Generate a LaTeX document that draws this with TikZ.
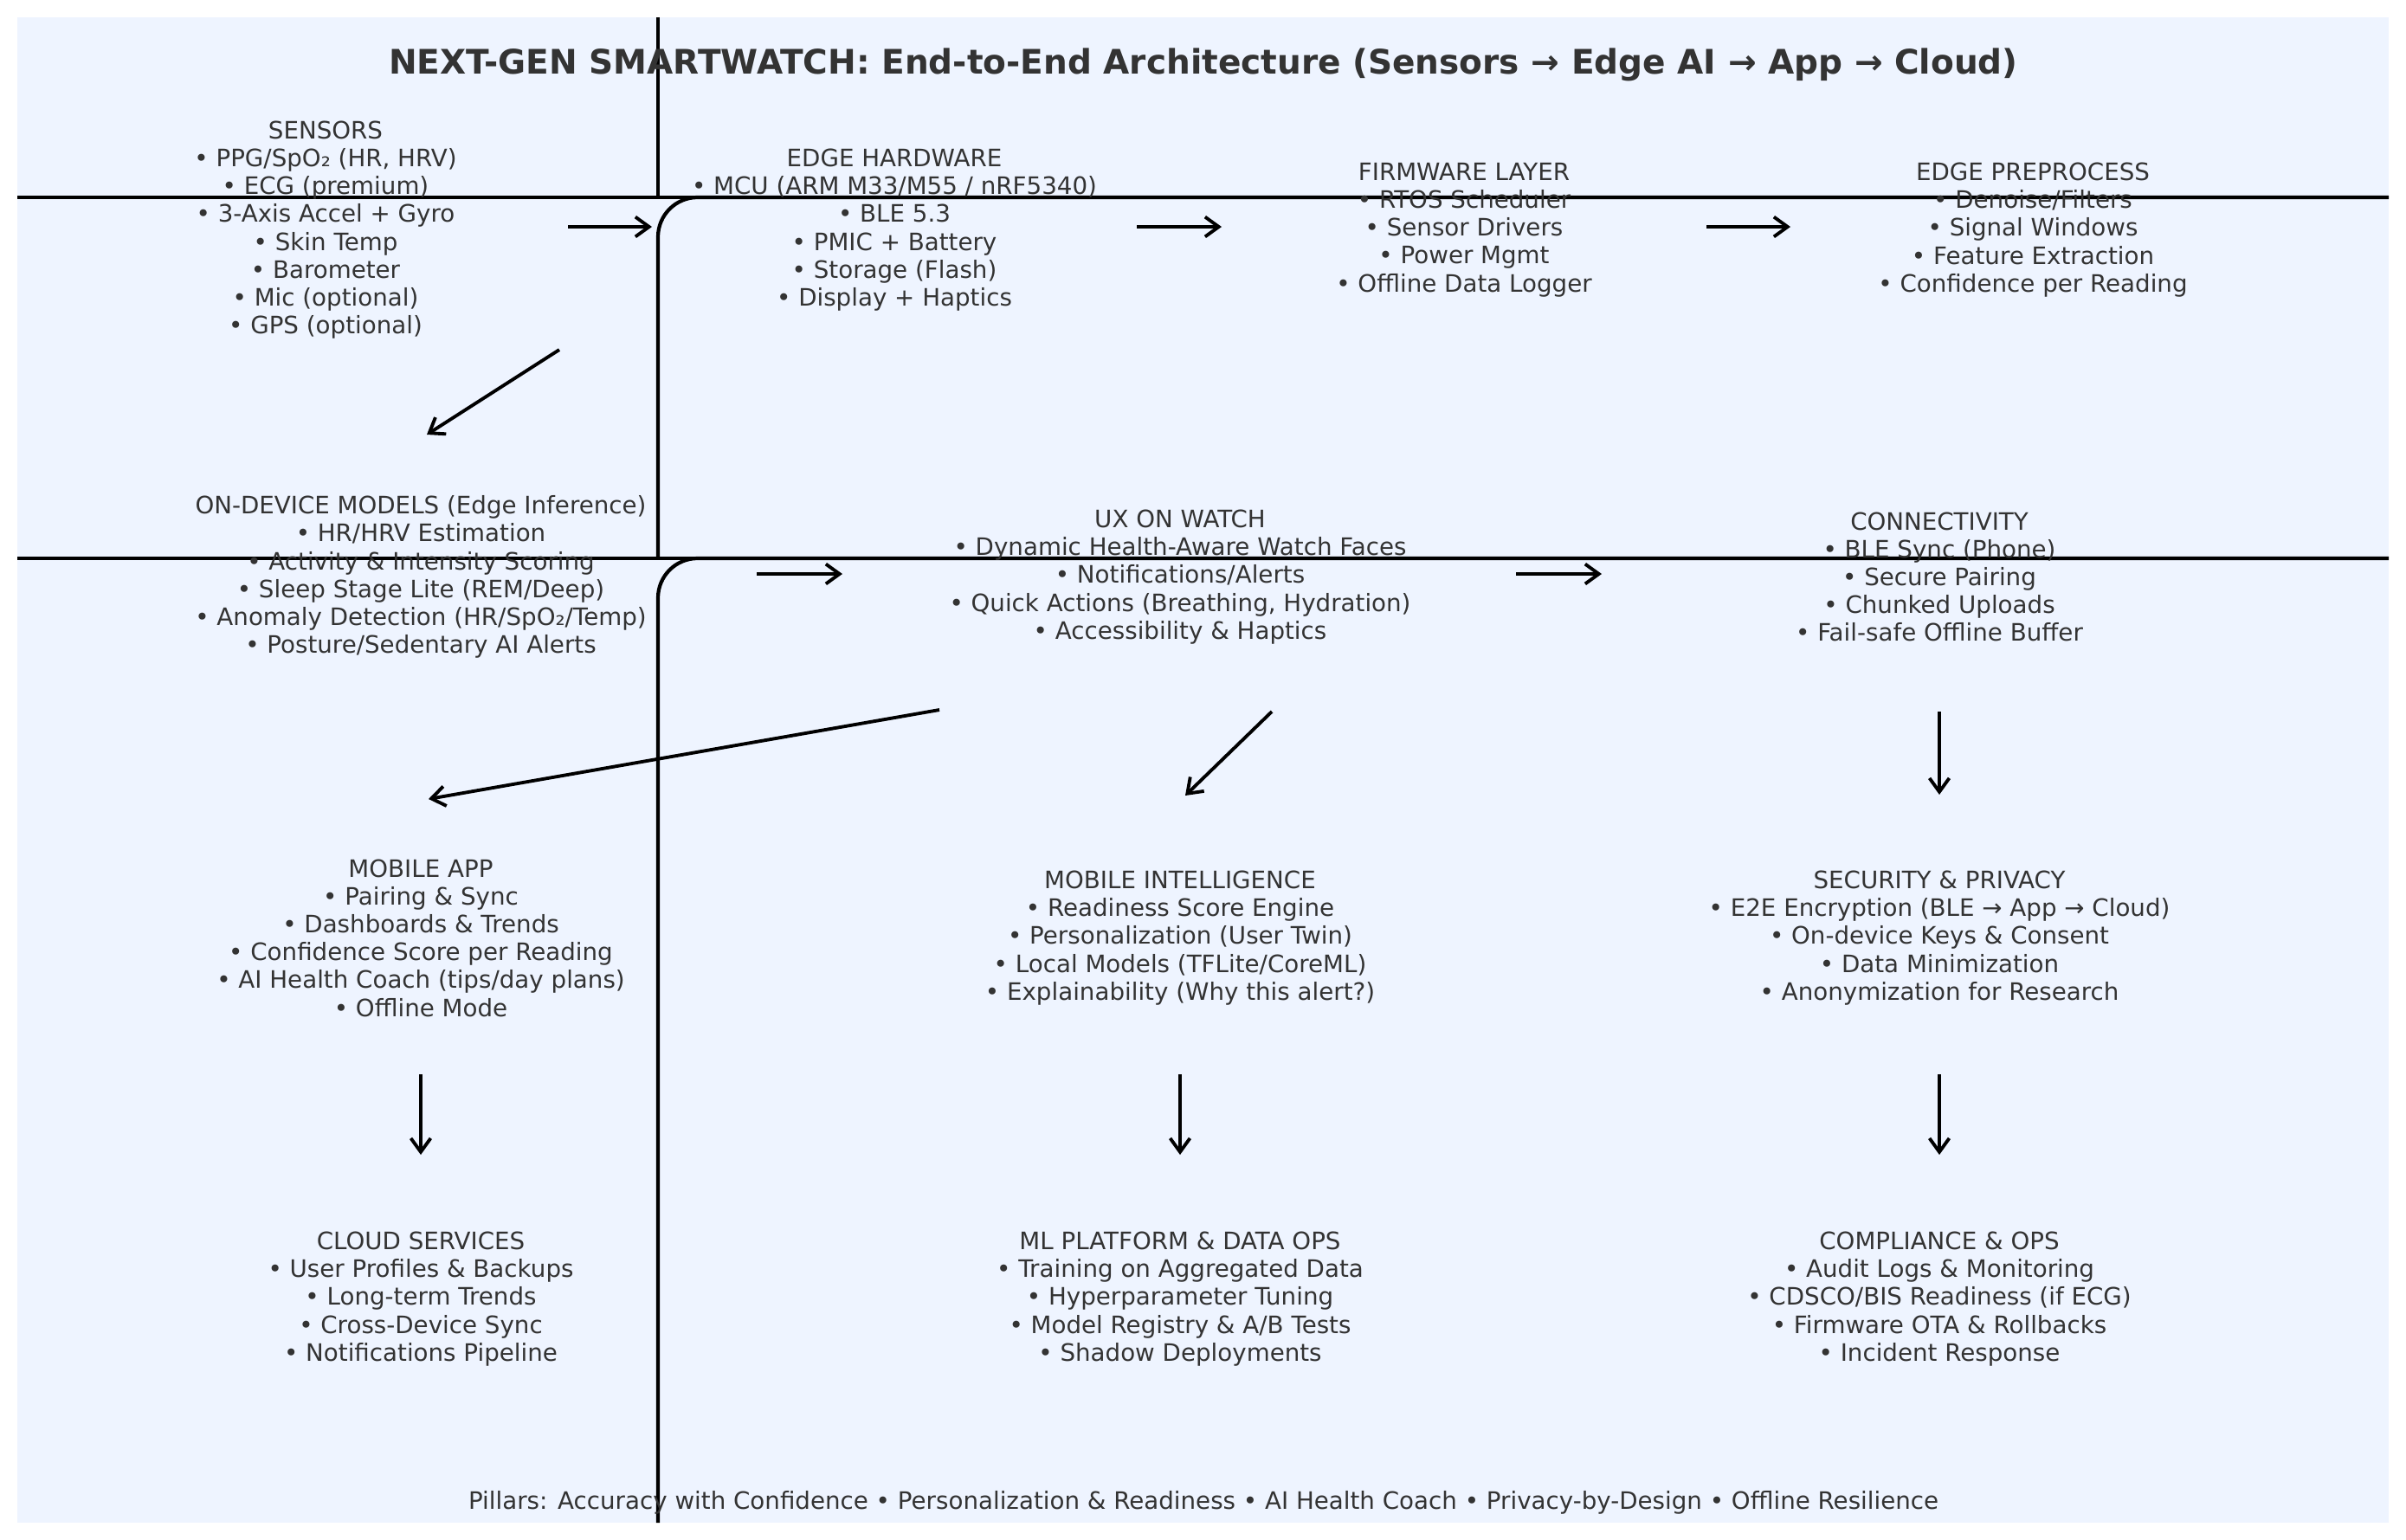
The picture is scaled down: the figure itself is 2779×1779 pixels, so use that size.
\documentclass[tikz,border=0pt]{standalone}
\usepackage{fontspec}
\setmainfont{DejaVu Sans}
\usetikzlibrary{arrows.meta,calc}
\definecolor{bgblue}{HTML}{EEF4FF}
\definecolor{txtgray}{HTML}{333333}

\begin{document}
\begin{tikzpicture}[x=0.01cm,y=-0.01cm,
  blk/.style={align=center,inner sep=0pt,yshift=-1pt,text=txtgray,font=\fontsize{7.88}{9.15}\selectfont},
  arr/.style={-{Straight Barb[length=4.5pt,width=6.5pt]},line width=1.1pt},
  frame/.style={line width=1.2pt}]

\useasboundingbox (0,0) rectangle (2779,1779);
\fill[bgblue] (20,20) rectangle (2759,1759);

% frame lines
\draw[frame] (760,20) -- (760,228);
\draw[frame] (20,228) -- (2759,228);
\draw[frame,rounded corners=13pt] (2759,228) -- (760,228) -- (760,645);
\draw[frame] (20,645) -- (2759,645);
\draw[frame,rounded corners=13pt] (2759,645) -- (760,645) -- (760,1759);

\node[blk,font=\fontsize{11.1}{13}\selectfont\bfseries] (title) at (1390,71)
  {NEXT-GEN SMARTWATCH: End-to-End Architecture (Sensors → Edge AI → App → Cloud)};

% row 1
\node[blk] (sensors) at (376,262) {SENSORS\\• PPG/SpO₂ (HR, HRV)\\• ECG (premium)\\• 3-Axis Accel + Gyro\\• Skin Temp\\• Barometer\\• Mic (optional)\\• GPS (optional)};
\node[blk] (edgehw) at (1033,262) {EDGE HARDWARE\\• MCU (ARM M33/M55 / nRF5340)\\• BLE 5.3\\• PMIC + Battery\\• Storage (Flash)\\• Display + Haptics};
\node[blk] (firmware) at (1691,262) {FIRMWARE LAYER\\• RTOS Scheduler\\• Sensor Drivers\\• Power Mgmt\\• Offline Data Logger};
\node[blk] (preproc) at (2348,262) {EDGE PREPROCESS\\• Denoise/Filters\\• Signal Windows\\• Feature Extraction\\• Confidence per Reading};

% row 2
\node[blk] (models) at (486,663) {ON-DEVICE MODELS (Edge Inference)\\• HR/HRV Estimation\\• Activity \& Intensity Scoring\\• Sleep Stage Lite (REM/Deep)\\• Anomaly Detection (HR/SpO₂/Temp)\\• Posture/Sedentary AI Alerts};
\node[blk] (uxwatch) at (1363,663) {UX ON WATCH\\• Dynamic Health-Aware Watch Faces\\• Notifications/Alerts\\• Quick Actions (Breathing, Hydration)\\• Accessibility \& Haptics};
\node[blk] (connect) at (2240,663) {CONNECTIVITY\\• BLE Sync (Phone)\\• Secure Pairing\\• Chunked Uploads\\• Fail-safe Offline Buffer};

% row 3
\node[blk] (mobapp) at (486,1080) {MOBILE APP\\• Pairing \& Sync\\• Dashboards \& Trends\\• Confidence Score per Reading\\• AI Health Coach (tips/day plans)\\• Offline Mode};
\node[blk] (mobintel) at (1363,1080) {MOBILE INTELLIGENCE\\• Readiness Score Engine\\• Personalization (User Twin)\\• Local Models (TFLite/CoreML)\\• Explainability (Why this alert?)};
\node[blk] (security) at (2240,1080) {SECURITY \& PRIVACY\\• E2E Encryption (BLE → App → Cloud)\\• On-device Keys \& Consent\\• Data Minimization\\• Anonymization for Research};

% row 4
\node[blk] (cloud) at (486,1497) {CLOUD SERVICES\\• User Profiles \& Backups\\• Long-term Trends\\• Cross-Device Sync\\• Notifications Pipeline};
\node[blk] (mlops) at (1363,1497) {ML PLATFORM \& DATA OPS\\• Training on Aggregated Data\\• Hyperparameter Tuning\\• Model Registry \& A/B Tests\\• Shadow Deployments};
\node[blk] (compl) at (2240,1497) {COMPLIANCE \& OPS\\• Audit Logs \& Monitoring\\• CDSCO/BIS Readiness (if ECG)\\• Firmware OTA \& Rollbacks\\• Incident Response};

\node[blk] (pillars) at (1390,1732) {Pillars: Accuracy with Confidence • Personalization \& Readiness • AI Health Coach • Privacy-by-Design • Offline Resilience};

% arrows (node centres sit 3.5 below the text rows)
\draw[arr] ($(sensors)+(280,-3.5)$) -- ($(edgehw)+(-280,-3.5)$);
\draw[arr] ($(edgehw)+(280,-3.5)$) -- ($(firmware)+(-280,-3.5)$);
\draw[arr] ($(firmware)+(280,-3.5)$) -- ($(preproc)+(-280,-3.5)$);
\draw[arr] ($(sensors)+(270,138.5)$) -- ($(models)+(7,-164.5)$);
\draw[arr] ($(models)+(388,-3.5)$) -- ($(uxwatch)+(-390,-3.5)$);
\draw[arr] ($(uxwatch)+(388,-3.5)$) -- ($(connect)+(-390,-3.5)$);
\draw[arr] ($(uxwatch)+(-278,153.5)$) -- ($(mobapp)+(9,-160.5)$);
\draw[arr] ($(uxwatch)+(106,155.5)$) -- ($(mobintel)+(6,-164.5)$);
\draw[arr] ($(connect)+(0,155.5)$) -- ($(security)+(0,-165.5)$);
\draw[arr] ($(mobapp)+(0,157.5)$) -- ($(cloud)+(0,-166.5)$);
\draw[arr] ($(mobintel)+(0,157.5)$) -- ($(mlops)+(0,-166.5)$);
\draw[arr] ($(security)+(0,157.5)$) -- ($(compl)+(0,-166.5)$);

\end{tikzpicture}
\end{document}
